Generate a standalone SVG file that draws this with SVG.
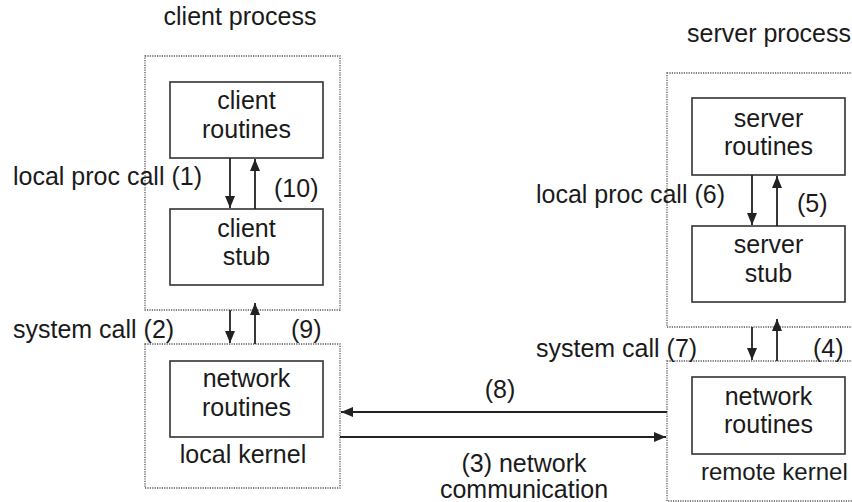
<svg xmlns="http://www.w3.org/2000/svg" width="852" height="502" viewBox="0 0 852 502">
<defs>
<style>
text{font-family:"Liberation Sans",Arial,sans-serif;font-size:25px;fill:#1a1a1a}
.c{text-anchor:middle}
.box{fill:#fff;stroke:#333;stroke-width:1.6}
.dot{fill:none;stroke:#555;stroke-width:1.3;stroke-dasharray:1.2 1.2}
.arr{stroke:#222;stroke-width:1.8;fill:none;marker-end:url(#ah)}
</style>
<marker id="ah" markerUnits="userSpaceOnUse" markerWidth="12" markerHeight="10" refX="12" refY="5" orient="auto">
<path d="M0,0 L12,5 L0,10 z" fill="#222"/>
</marker>
</defs>
<rect width="852" height="502" fill="#fff"/>

<g id="client-process">
<rect class="dot" x="145" y="56" width="195" height="254"/>
<text class="c" x="240" y="25">client process</text>
</g>
<g id="client-routines">
<rect class="box" x="170" y="82" width="153" height="76"/>
<text class="c" x="246.5" y="109">client</text>
<text class="c" x="246.5" y="138">routines</text>
</g>
<g id="client-stub">
<rect class="box" x="170" y="209" width="153" height="76"/>
<text class="c" x="246.5" y="237">client</text>
<text class="c" x="246.5" y="265">stub</text>
</g>
<g id="local-kernel">
<rect class="dot" x="145" y="344" width="195" height="144"/>
<text class="c" x="243" y="463">local kernel</text>
</g>
<g id="client-network-routines">
<rect class="box" x="170" y="361" width="153" height="76"/>
<text class="c" x="246.5" y="387">network</text>
<text class="c" x="246.5" y="416">routines</text>
</g>

<g id="server-process">
<rect class="dot" x="667" y="73" width="200" height="254"/>
<text x="687" y="42">server process</text>
</g>
<g id="server-routines">
<rect class="box" x="692" y="98" width="153" height="77"/>
<text class="c" x="768.5" y="127">server</text>
<text class="c" x="768.5" y="155">routines</text>
</g>
<g id="server-stub">
<rect class="box" x="692" y="226" width="153" height="76"/>
<text class="c" x="768.5" y="253">server</text>
<text class="c" x="768.5" y="282">stub</text>
</g>
<g id="remote-kernel">
<rect class="dot" x="667" y="361" width="200" height="140"/>
<text x="701" y="480" style="font-size:24px">remote kernel</text>
</g>
<g id="server-network-routines">
<rect class="box" x="692" y="377" width="153" height="77"/>
<text class="c" x="768.5" y="405">network</text>
<text class="c" x="768.5" y="433">routines</text>
</g>

<g id="connectors">
<line class="arr" x1="230" y1="158" x2="230" y2="208"/>
<line class="arr" x1="255" y1="209" x2="255" y2="159"/>
<line class="arr" x1="230" y1="310" x2="230" y2="343"/>
<line class="arr" x1="255" y1="344" x2="255" y2="303"/>
<line class="arr" x1="752" y1="175" x2="752" y2="225"/>
<line class="arr" x1="777" y1="226" x2="777" y2="176"/>
<line class="arr" x1="752" y1="327" x2="752" y2="360"/>
<line class="arr" x1="777" y1="361" x2="777" y2="319"/>
<line class="arr" x1="667" y1="412" x2="341" y2="412"/>
<line class="arr" x1="340" y1="437" x2="666" y2="437"/>
</g>

<g id="labels">
<text x="13" y="185">local proc call (1)</text>
<text x="274" y="197">(10)</text>
<text x="13" y="338">system call (2)</text>
<text x="291" y="338">(9)</text>
<text x="536" y="203">local proc call (6)</text>
<text x="797" y="212">(5)</text>
<text x="536" y="357">system call (7)</text>
<text x="813" y="357">(4)</text>
<text class="c" x="500" y="398">(8)</text>
<text class="c" x="524" y="472">(3) network</text>
<text class="c" x="524" y="498">communication</text>
</g>
</svg>
